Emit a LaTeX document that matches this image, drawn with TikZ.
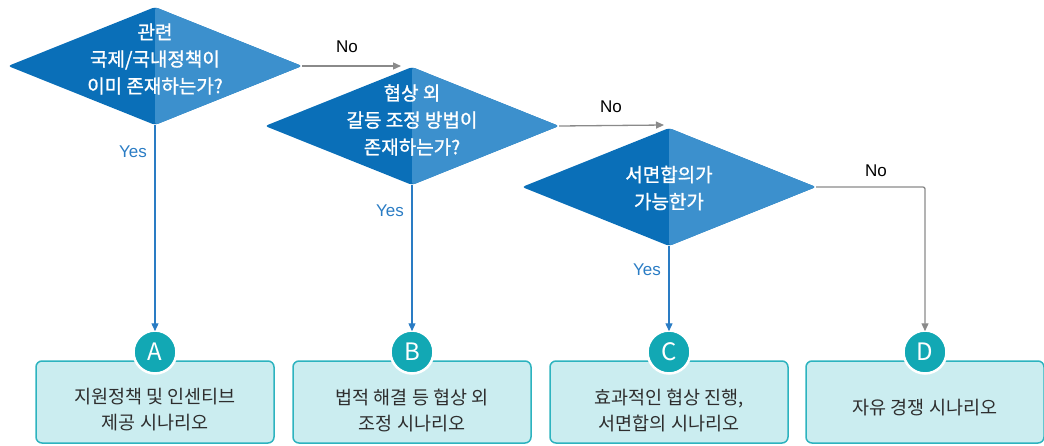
\documentclass[tikz,border=0pt]{standalone}
\usepackage{fontspec}
\setmainfont{Noto Sans CJK KR}
\newfontfamily\diafont{Noto Sans CJK KR}[FakeBold=1.2]
\newfontfamily\labfont{Liberation Sans}
\usetikzlibrary{shapes.geometric,arrows.meta}
\definecolor{dkblue}{HTML}{0A6FB8}
\definecolor{ltblue}{HTML}{3C90CD}
\definecolor{teal1}{HTML}{12A8B4}
\definecolor{boxfill}{HTML}{CBEDF0}
\definecolor{boxline}{HTML}{2DB3BF}
\definecolor{yesblue}{HTML}{2A7CC4}
\definecolor{nogray}{HTML}{8A8A8A}
\definecolor{txt}{HTML}{2E2E2E}
\tikzset{
  dia/.style={diamond, minimum width=294pt, minimum height=118pt, inner sep=0pt,
    rounded corners=3pt, fill=dkblue,
    path picture={\fill[ltblue] (path picture bounding box.north) rectangle (path picture bounding box.south east);}},
  diatext/.style={text=white, font=\diafont\fontsize{19}{27}\selectfont, align=center},
  scen/.style={rectangle, rounded corners=6pt, minimum width=238pt, minimum height=82pt,
    fill=boxfill, draw=boxline, line width=1.5pt, inner sep=0pt},
  scentext/.style={text=txt, font=\fontsize{18.5}{26}\selectfont, align=center},
  badge/.style={circle, fill=teal1, draw=white, line width=2.5pt, minimum size=43pt, inner sep=0pt,
    text=white, font=\fontsize{24}{24}\selectfont},
  yesarr/.style={draw=yesblue, line width=1.3pt, -{Triangle[length=8pt,width=7pt]}},
  noarr/.style={draw=nogray, line width=1.3pt, -{Triangle[length=8pt,width=7pt]}},
  yeslab/.style={text=yesblue, font=\labfont\fontsize{17}{17}\selectfont},
  nolab/.style={text=black, font=\labfont\fontsize{17}{17}\selectfont},
}
\begin{document}
\begin{tikzpicture}[x=1pt,y=-1pt]
\useasboundingbox (0,0) rectangle (1044,445);
% diamonds
\node[dia] (d1) at (155,66) {};
\node[diatext] (t1) at (155,59) {관련\\국제/국내정책이\\이미 존재하는가?};
\node[dia] (d2) at (412,126) {};
\node[diatext] (t2) at (412,120) {협상 외\\갈등 조정 방법이\\존재하는가?};
\node[dia] (d3) at (669,187) {};
\node[diatext] (t3) at (669,188) {서면합의가\\가능한가};
% scenario boxes
\node[scen] (bA) at (155,402) {};
\node[scentext] (sA) at (155,410) {지원정책 및 인센티브\\제공 시나리오};
\node[scen] (bB) at (412,402) {};
\node[scentext] (sB) at (412,410) {법적 해결 등 협상 외\\조정 시나리오};
\node[scen] (bC) at (669,402) {};
\node[scentext] (sC) at (669,410) {효과적인 협상 진행,\\서면합의 시나리오};
\node[scen] (bD) at (925,402) {};
\node[scentext] (sD) at (925,408) {자유 경쟁 시나리오};
% badges
\node[badge] (cA) at (155,352) {A};
\node[badge] (cB) at (412,352) {B};
\node[badge] (cC) at (669,352) {C};
\node[badge] (cD) at (925,352) {D};
% no connectors
\coordinate (n1) at (401,66);
\coordinate (n2) at (664,125);
\coordinate (n3) at (925,187);
\draw[noarr] (d1.east) -- (n1);
\draw[noarr] (d2.east) -- (n2);
\draw[noarr, rounded corners=2pt] (d3.east) -- (n3) -- ([yshift=-2pt]cD.north);
\node[nolab] (no1) at (347,47) {No};
\node[nolab] (no2) at (611,107) {No};
\node[nolab] (no3) at (876,171) {No};
% yes connectors
\draw[yesarr] (d1.south) -- ([yshift=-2pt]cA.north);
\draw[yesarr] (d2.south) -- ([yshift=-2pt]cB.north);
\draw[yesarr] (d3.south) -- ([yshift=-2pt]cC.north);
\node[yeslab] (y1) at (133,152) {Yes};
\node[yeslab] (y2) at (390,211) {Yes};
\node[yeslab] (y3) at (647,270) {Yes};
\end{tikzpicture}
\end{document}
